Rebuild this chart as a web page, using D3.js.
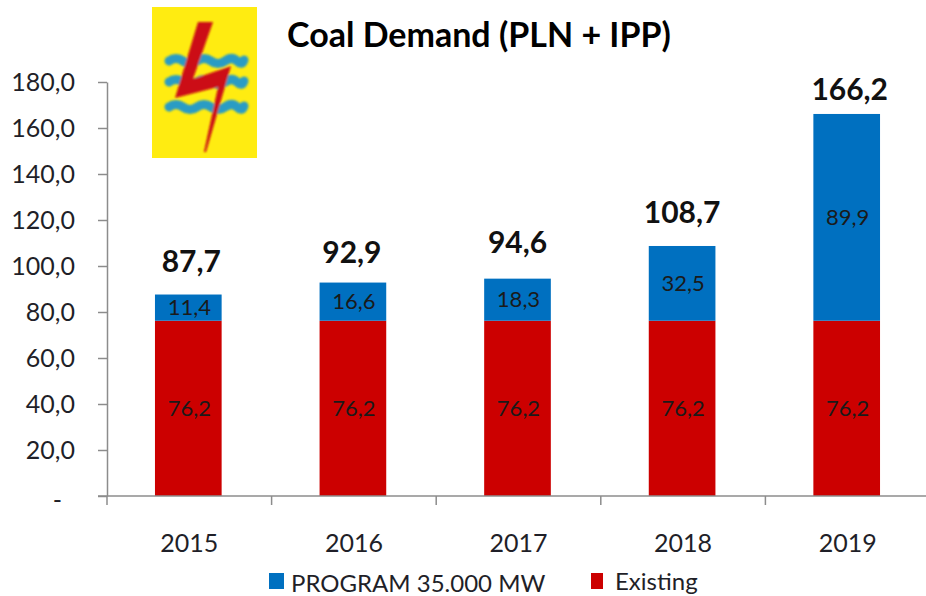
<!DOCTYPE html>
<html><head><meta charset="utf-8">
<script src="https://cdn.jsdelivr.net/npm/d3@7"></script>
<style>html,body{margin:0;padding:0;background:#fff}svg{display:block}text{font-family:"Lato",sans-serif}</style>
</head><body><div id="c"></div>
<script>
const years=["2015","2016","2017","2018","2019"];
const existing=[76.2,76.2,76.2,76.2,76.2];
const program=[11.4,16.6,18.3,32.5,89.9];
const totals=[87.7,92.9,94.6,108.7,166.2];
const yTicks=[0,20,40,60,80,100,120,140,160,180];
const seriesNames=["PROGRAM 35.000 MW","Existing"];
const colors=["#0070c0","#cc0000"];
const title="Coal Demand (PLN + IPP)";
const fmt=v=>v===0?"-":v.toFixed(1).replace(".",",");

const svg=d3.select("#c").append("svg").attr("width",926).attr("height",596);
const x=d3.scaleBand().domain(years).range([106,929]).paddingInner(0.595).paddingOuter(0.2975);
const y=d3.scaleLinear().domain([0,180]).range([496,82]);
const axisCol="#8c8c8c", txt="#1f1f28";

// logo
const logo=svg.append("g");
logo.append("defs").append("filter").attr("id","soft").append("feGaussianBlur").attr("stdDeviation",0.8);
logo.append("rect").attr("x",152).attr("y",7).attr("width",105).attr("height",151).attr("fill","#ffec11");
const art=logo.append("g").attr("filter","url(#soft)");
[61,82,107].forEach(w=>{
  art.append("path").attr("d",`M169 ${w} q7 -5 14 0 t14 0 t14 0 t14 0 t12 0 t7 -1`)
   .attr("fill","none").attr("stroke","#2a9cc4").attr("stroke-width",9).attr("stroke-linecap","round");
});
art.append("path").attr("d","M198 22 L213 22 L193 79 L231 66 L206 152 L204 152 L218 87 L175 98 Z").attr("fill","#cc0a14");

// bars
const gB=svg.append("g");
gB.selectAll("rect.e").data(years).join("rect").attr("class","e")
 .attr("x",d=>x(d)).attr("width",x.bandwidth())
 .attr("y",(d,i)=>y(existing[i])).attr("height",(d,i)=>y(0)-y(existing[i])).attr("fill",colors[1]);
gB.selectAll("rect.p").data(years).join("rect").attr("class","p")
 .attr("x",d=>x(d)).attr("width",x.bandwidth())
 .attr("y",(d,i)=>y(existing[i]+program[i])).attr("height",(d,i)=>y(existing[i])-y(existing[i]+program[i])).attr("fill",colors[0]);

// y axis
const gy=svg.append("g").attr("transform","translate(107,0)").call(d3.axisLeft(y).tickValues(yTicks).tickFormat(fmt).tickSize(9).tickSizeOuter(0));
gy.select(".domain").attr("stroke",axisCol).attr("stroke-width",1.5);
gy.selectAll(".tick line").attr("stroke",axisCol).attr("stroke-width",1.5);
gy.selectAll(".tick text").attr("x",-32).attr("dy","0.33em").attr("text-anchor","end").attr("font-size",25).attr("fill",txt);
gy.selectAll(".tick").filter(d=>d===0).select("text").attr("x",-45).attr("dy","0.5em");

// x axis
const edges=d3.range(years.length+1).map(i=>107+i*x.step());
const gx=svg.append("g");
gx.append("line").attr("x1",98).attr("x2",926).attr("y1",y(0)).attr("y2",y(0)).attr("stroke",axisCol).attr("stroke-width",1.5);
gx.selectAll("line.t").data(edges).join("line").attr("class","t").attr("x1",d=>d).attr("x2",d=>d).attr("y1",y(0)).attr("y2",y(0)+9).attr("stroke",axisCol).attr("stroke-width",1.5);
gx.selectAll("text").data(years).join("text").attr("x",d=>x(d)+x.bandwidth()/2+1).attr("y",552).attr("text-anchor","middle").attr("font-size",25).attr("fill",txt).text(d=>d);

// value labels
const lab=svg.append("g").attr("text-anchor","middle").attr("font-size",22).attr("fill","#1a1a1a");
lab.selectAll("text.e").data(years).join("text").attr("class","e").attr("x",d=>x(d)+x.bandwidth()/2+1).attr("y",(d,i)=>(y(0)+y(existing[i]))/2).attr("dy","0.35em").text((d,i)=>fmt(existing[i]));
lab.selectAll("text.p").data(years).join("text").attr("class","p").attr("x",d=>x(d)+x.bandwidth()/2+1).attr("y",(d,i)=>(y(existing[i])+y(existing[i]+program[i]))/2).attr("dy","0.35em").text((d,i)=>fmt(program[i]));
const totalOffset=[22,19,25,23,14];
const totalShift=[3,-1,0,0,3];
svg.append("g").attr("text-anchor","middle").attr("font-size",30).attr("font-weight",700).attr("fill","#111")
 .selectAll("text").data(years).join("text").attr("x",(d,i)=>x(d)+x.bandwidth()/2+totalShift[i]).attr("y",(d,i)=>y(totals[i])-totalOffset[i]).text((d,i)=>fmt(totals[i]));

svg.append("text").attr("x",287).attr("y",47).attr("font-size",34).attr("font-weight",700).attr("fill","#000").text(title);

// legend
const lx=[269,591], lw=[15,12], tx=[291,615], ty=[592,590];
const leg=svg.append("g");
leg.selectAll("rect").data(seriesNames).join("rect").attr("x",(d,i)=>lx[i]).attr("y",573).attr("width",(d,i)=>lw[i]).attr("height",16).attr("fill",(d,i)=>colors[i]);
leg.selectAll("text").data(seriesNames).join("text").attr("x",(d,i)=>tx[i]).attr("y",(d,i)=>ty[i]).attr("font-size",24).attr("fill",txt).text(d=>d);
</script></body></html>
